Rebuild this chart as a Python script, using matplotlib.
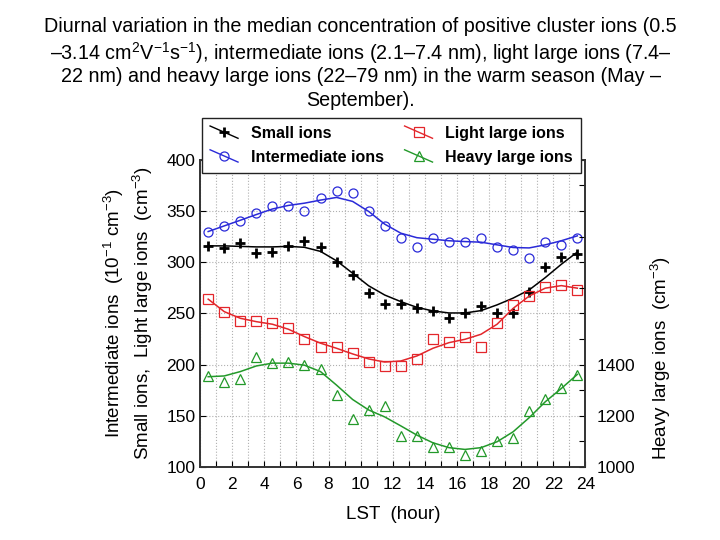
import matplotlib
matplotlib.use("Agg")
import matplotlib.pyplot as plt
from matplotlib.lines import Line2D
from matplotlib.legend_handler import HandlerLine2D

plt.rcParams['font.family'] = ['Liberation Sans', 'DejaVu Sans']
plt.rcParams['mathtext.fontset'] = 'custom'
plt.rcParams['mathtext.rm'] = 'Liberation Sans'
plt.rcParams['mathtext.it'] = 'Liberation Sans:italic'
plt.rcParams['mathtext.bf'] = 'Liberation Sans:bold'

# hour of day (LST), bin centres
hours = [h + 0.5 for h in range(24)]

# medians
small_ions = [316, 314, 319, 309, 310, 316, 321, 315, 300, 288, 270, 259,
              259, 255, 252, 246, 250, 257, 250, 250, 271, 295, 305, 308]
intermediate_ions = [330, 335, 340, 348, 355, 355, 350, 363, 370, 368, 350, 335,
                     324, 315, 324, 320, 320, 324, 315, 312, 304, 320, 317, 324]
light_large = [264, 251, 243, 243, 241, 236, 225, 217, 217, 211, 203, 199,
               199, 206, 225, 222, 227, 217, 241, 258, 267, 276, 278, 273]
heavy_large = [1355, 1332, 1343, 1431, 1408, 1412, 1398, 1384, 1282, 1188, 1222, 1240,
               1122, 1122, 1077, 1077, 1048, 1062, 1103, 1114, 1219, 1267, 1309, 1360]

# fitted curves at the same hours
small_fit = [316, 316, 315.5, 315, 315, 315.5, 314.6, 310.6, 301.4, 289.3, 277, 268,
             261.6, 256, 252.5, 250.5, 250.5, 252.8, 258.4, 265, 273, 285, 298, 310]
intermediate_fit = [330, 335.5, 341, 346.6, 352, 355.5, 357.7, 360.7, 363.3, 359.4, 349.6, 337.2,
                    328.4, 324, 322.5, 321, 320.2, 319.6, 317, 314.4, 314, 317, 321, 325.8]
light_fit = [264, 251.8, 245.3, 242, 239.5, 234.6, 227.4, 221, 216, 210.5, 205.6, 202.6,
             203.6, 208.5, 216, 221.5, 224.8, 229.7, 239.5, 255, 267, 274.7, 277.2, 274.7]
heavy_fit = [1353, 1356, 1373, 1395, 1406, 1406, 1398, 1373, 1320, 1264, 1223, 1196,
             1161, 1125, 1095, 1076, 1069, 1076, 1099, 1138, 1193, 1255, 1307, 1362]

BLUE = '#2a2ad8'
RED = '#e3262b'
GREEN = '#23992a'


class DiagHandler(HandlerLine2D):
    """legend key drawn as a short falling diagonal with the marker in the middle"""
    def create_artists(self, legend, orig_handle, xdescent, ydescent,
                       width, height, fontsize, trans):
        x0, x1 = -xdescent, width - xdescent
        y0, y1 = -ydescent + height * 1.05, -ydescent - height * 0.05
        line = Line2D([x0, x1], [y0, y1], color=orig_handle.get_color(), lw=1.0)
        mk = Line2D([(x0 + x1) / 2], [(y0 + y1) / 2],
                    marker=orig_handle.get_marker(), ms=orig_handle.get_markersize(),
                    mew=orig_handle.get_markeredgewidth(), mfc='none',
                    mec=orig_handle.get_markeredgecolor(), ls='none')
        line.set_transform(trans)
        mk.set_transform(trans)
        return [line, mk]


fig = plt.figure(figsize=(7.2, 5.4), dpi=100)
ax = fig.add_axes([0.278, 0.135, 0.535, 0.569])
ax2 = ax.twinx()

ax.plot(hours, small_fit, color='black', lw=1.1)
ax.plot(hours, small_ions, ls='none', marker='+', ms=7, mew=2, color='black')
ax.plot(hours, intermediate_fit, color=BLUE, lw=1.1)
ax.plot(hours, intermediate_ions, ls='none', marker='o', ms=6.5, mew=0.9, mfc='none', mec=BLUE)
ax.plot(hours, light_fit, color=RED, lw=1.1)
ax.plot(hours, light_large, ls='none', marker='s', ms=6.5, mew=0.9, mfc='none', mec=RED)
ax2.plot(hours, heavy_fit, color=GREEN, lw=1.1)
ax2.plot(hours, heavy_large, ls='none', marker='^', ms=7.5, mew=0.9, mfc='none', mec=GREEN)

ax.set_xlim(0, 24)
ax.set_ylim(100, 400)
ax2.set_ylim(1000, 2200)

ax.set_xticks(range(0, 25, 2))
ax.set_xticks(range(0, 25), minor=True)
ax.set_yticks(range(100, 401, 50))
ax.tick_params(axis='both', which='both', direction='in', labelsize=12.5, length=4, width=0.8)
ax.tick_params(axis='x', which='both', pad=7)

right_ticks = list(range(1000, 2201, 100))
ax2.set_yticks(right_ticks)
ax2.set_yticklabels([str(t) if t in (1000, 1200, 1400) else '' for t in right_ticks])
ax2.tick_params(axis='y', direction='in', labelsize=12.5, length=4, width=0.8, pad=8)

ax.grid(True, which='both', axis='x', ls=':', color='#b0b0b0', lw=0.8)
ax.grid(True, which='major', axis='y', ls=':', color='#b0b0b0', lw=0.8)
ax.set_axisbelow(True)

for a in (ax, ax2):
    for s in a.spines.values():
        s.set_linewidth(1.2)
        s.set_color('#333333')

ax.set_xlabel('LST  (hour)', fontsize=13.5, labelpad=10)
ax.set_ylabel('Intermediate ions  (10$^{-1}$ cm$^{-3}$)\n'
              'Small ions,  Light large ions  (cm$^{-3}$)',
              fontsize=13.5, linespacing=1.25, labelpad=8)
fig.text(0.918, 0.337, 'Heavy large ions  (cm$^{-3}$)', rotation=90,
         ha='center', va='center', fontsize=13.5)

handles = [
    Line2D([], [], color='black', marker='+', ms=7, mew=2, mec='black'),
    Line2D([], [], color=BLUE, marker='o', ms=6.5, mew=0.9, mec=BLUE),
    Line2D([], [], color=RED, marker='s', ms=6.5, mew=0.9, mec=RED),
    Line2D([], [], color=GREEN, marker='^', ms=7.5, mew=0.9, mec=GREEN),
]
labels = ['Small ions', 'Intermediate ions', 'Light large ions', 'Heavy large ions']
leg = ax2.legend(handles, labels, ncol=2, loc='upper left',
                 bbox_to_anchor=(0.005, 1.137),
                 handler_map={Line2D: DiagHandler()},
                 prop={'weight': 'bold', 'size': 11.5}, handlelength=1.75,
                 handletextpad=0.8, columnspacing=1.3, borderpad=0.5,
                 labelspacing=0.55, fancybox=False, framealpha=1,
                 edgecolor='#222222', borderaxespad=0)
leg.get_frame().set_linewidth(1.0)
leg.set_zorder(10)

title_lines = [
    'Diurnal variation in the median concentration of positive cluster ions (0.5',
    '\u20133.14 cm$^{2}$V$^{\u22121}$s$^{\u22121}$), intermediate ions (2.1\u20137.4 nm), '
    'light large ions (7.4\u2013',
    '22 nm) and heavy large ions (22\u201379 nm) in the warm season (May \u2013',
    'September).',
]
for i, line in enumerate(title_lines):
    fig.text(0.501, 1 - (25 + 24.6 * i) / 540, line, ha='center', va='center_baseline',
             fontsize=14.2)

fig.savefig('out.png', dpi=100)
